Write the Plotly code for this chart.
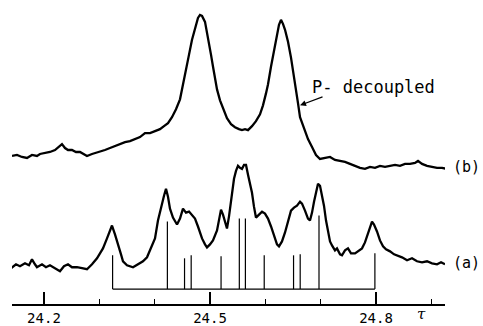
import plotly.graph_objects as go

# Trace (a): coupled spectrum (position in tau, relative intensity)
a_tau = [24.1404, 24.1494, 24.1566, 24.1657, 24.1729, 24.1783, 24.1837, 24.1873, 24.1964, 24.2036,
         24.2108, 24.2199, 24.2289, 24.2361, 24.2434, 24.2506, 24.2596, 24.2687, 24.2777, 24.2868,
         24.2958, 24.3012, 24.3066, 24.3139, 24.3193, 24.3229, 24.3283, 24.3337, 24.3392, 24.3428,
         24.3500, 24.3609, 24.3699, 24.3789, 24.3862, 24.3934, 24.3970, 24.4006, 24.4060, 24.4115,
         24.4169, 24.4205, 24.4241, 24.4277, 24.4331, 24.4404, 24.4458, 24.4512, 24.4566, 24.4621,
         24.4675, 24.4729, 24.4783, 24.4856, 24.4910, 24.4946, 24.5000, 24.5054, 24.5127, 24.5163,
         24.5199, 24.5235, 24.5271, 24.5307, 24.5343, 24.5380, 24.5434, 24.5470, 24.5506, 24.5542,
         24.5578, 24.5615, 24.5651, 24.5687, 24.5723, 24.5759, 24.5795, 24.5831, 24.5886, 24.5940,
         24.5994, 24.6048, 24.6103, 24.6157, 24.6211, 24.6247, 24.6301, 24.6356, 24.6410, 24.6464,
         24.6518, 24.6572, 24.6627, 24.6663, 24.6717, 24.6771, 24.6807, 24.6844, 24.6880, 24.6916,
         24.6952, 24.6988, 24.7024, 24.7060, 24.7097, 24.7133, 24.7169, 24.7205, 24.7259, 24.7295,
         24.7350, 24.7386, 24.7440, 24.7494, 24.7548, 24.7621, 24.7675, 24.7747, 24.7801, 24.7856,
         24.7892, 24.7928, 24.7964, 24.8018, 24.8072, 24.8127, 24.8181, 24.8253, 24.8326, 24.8380,
         24.8470, 24.8561, 24.8651, 24.8741, 24.8832, 24.8922, 24.9012, 24.9103, 24.9175, 24.9247]
a_int = [36, 40, 38, 41, 39, 45, 40, 37, 40, 37,
         39, 36, 33, 38, 40, 37, 37, 36, 35, 40,
         46, 51, 56, 66, 74, 79, 70, 61, 50, 43,
         39, 37, 40, 43, 47, 56, 62, 66, 84, 98,
         109, 116, 108, 96, 87, 80, 86, 96, 92, 93,
         90, 86, 78, 66, 60, 57, 60, 64, 74, 84,
         95, 90, 84, 76, 88, 103, 126, 134, 139, 137,
         136, 140, 140, 130, 121, 112, 98, 87, 90, 93,
         91, 86, 78, 69, 60, 58, 63, 72, 83, 94,
         97, 99, 103, 101, 94, 86, 84, 92, 103, 114,
         121, 119, 109, 99, 84, 73, 63, 59, 54, 56,
         50, 49, 54, 56, 51, 51, 53, 56, 62, 71,
         78, 83, 80, 73, 64, 58, 55, 53, 50, 49,
         47, 44, 46, 43, 42, 43, 41, 40, 42, 40]

# Trace (b): P-decoupled spectrum
b_tau = [24.1422, 24.1512, 24.1602, 24.1693, 24.1783, 24.1873, 24.1928, 24.2018, 24.2108, 24.2199,
         24.2271, 24.2325, 24.2380, 24.2434, 24.2506, 24.2578, 24.2651, 24.2723, 24.2777, 24.2868,
         24.2940, 24.3012, 24.3102, 24.3193, 24.3283, 24.3374, 24.3464, 24.3554, 24.3645, 24.3735,
         24.3825, 24.3916, 24.4006, 24.4096, 24.4169, 24.4241, 24.4313, 24.4386, 24.4458, 24.4512,
         24.4566, 24.4621, 24.4675, 24.4729, 24.4783, 24.4819, 24.4856, 24.4910, 24.4946, 24.4982,
         24.5018, 24.5054, 24.5090, 24.5127, 24.5181, 24.5235, 24.5307, 24.5380, 24.5452, 24.5524,
         24.5578, 24.5633, 24.5687, 24.5759, 24.5831, 24.5904, 24.5958, 24.6012, 24.6048, 24.6103,
         24.6157, 24.6211, 24.6247, 24.6283, 24.6319, 24.6356, 24.6410, 24.6464, 24.6518, 24.6554,
         24.6591, 24.6627, 24.6663, 24.6717, 24.6771, 24.6844, 24.6916, 24.6988, 24.7078, 24.7169,
         24.7259, 24.7350, 24.7440, 24.7530, 24.7621, 24.7711, 24.7801, 24.7892, 24.7982, 24.8072,
         24.8163, 24.8253, 24.8344, 24.8434, 24.8524, 24.8615, 24.8705, 24.8759, 24.8832, 24.8922,
         24.9012, 24.9103, 24.9193, 24.9283]
b_int = [149, 150, 148, 147, 150, 149, 151, 152, 153, 155,
         158, 161, 157, 155, 155, 153, 153, 151, 149, 151,
         152, 153, 155, 157, 159, 161, 163, 164, 166, 168,
         172, 172, 174, 176, 179, 182, 188, 196, 206, 220,
         236, 251, 266, 278, 288, 291, 290, 284, 274, 264,
         251, 239, 226, 216, 205, 197, 187, 181, 178, 176,
         175, 176, 175, 179, 184, 191, 200, 212, 221, 239,
         256, 271, 281, 286, 282, 276, 264, 248, 230, 216,
         202, 188, 182, 174, 166, 158, 150, 146, 147, 148,
         145, 144, 143, 141, 139, 137, 136, 138, 137, 139,
         138, 139, 140, 139, 141, 141, 142, 144, 141, 139,
         138, 137, 137, 136]

# Stick diagram (calculated lines)
stick_tau = [24.324, 24.423, 24.454, 24.466, 24.520, 24.553, 24.564, 24.598, 24.651, 24.663, 24.697, 24.798]
stick_height = [34, 68, 31, 34, 33, 71, 71, 34, 34, 35, 74, 36]
stick_base = 15

major_ticks = [24.2, 24.5, 24.8]
major_labels = ["24.2", "24.5", "24.8"]
minor_ticks = [24.3, 24.4, 24.6, 24.7, 24.9]

# Build stick trace
sx, sy = [stick_tau[0], stick_tau[-1], None], [stick_base, stick_base, None]
for t, h in zip(stick_tau, stick_height):
    sx += [t, t, None]
    sy += [stick_base, stick_base + h, None]

fig = go.Figure()
fig.add_trace(go.Scatter(x=b_tau, y=b_int, mode="lines", line=dict(color="black", width=2.3), hoverinfo="skip"))
fig.add_trace(go.Scatter(x=a_tau, y=a_int, mode="lines", line=dict(color="black", width=2.3), hoverinfo="skip"))
fig.add_trace(go.Scatter(x=sx, y=sy, mode="lines", line=dict(color="black", width=1.2), hoverinfo="skip"))

mono = "DejaVu Sans Mono"
fig.add_annotation(x=24.7946, y=218, text="P- decoupled", showarrow=False,
                   font=dict(family=mono, size=17, color="black"))
fig.add_annotation(x=24.6627, y=200, text="", showarrow=True, ax=24, ay=-9,
                   arrowhead=2, arrowsize=1, arrowwidth=1.2, arrowcolor="black")
fig.add_annotation(x=1.0, xref="paper", xanchor="center", xshift=21, y=138, text="(b)", showarrow=False,
                   font=dict(family=mono, size=15, color="black"))
fig.add_annotation(x=1.0, xref="paper", xanchor="center", xshift=21, y=41, text="(a)", showarrow=False,
                   font=dict(family=mono, size=15, color="black"))
fig.add_annotation(x=24.883, y=0, yref="paper", yanchor="middle", yshift=-10, text="<i>τ</i>", showarrow=False,
                   font=dict(family="DejaVu Serif", size=15, color="black"))

fig.update_layout(
    width=483, height=326,
    margin=dict(l=12, r=38, t=0, b=20),
    paper_bgcolor="white", plot_bgcolor="white",
    showlegend=False,
    xaxis=dict(range=[24.1422, 24.9247], showgrid=False, zeroline=False,
               showline=True, linecolor="black", linewidth=1.5,
               ticks="inside", ticklen=12, tickwidth=1.5, tickcolor="black",
               tickvals=major_ticks, ticktext=major_labels,
               tickfont=dict(family=mono, size=14, color="black"),
               minor=dict(tickvals=minor_ticks, ticks="inside", ticklen=5, tickwidth=1.2, tickcolor="black")),
    yaxis=dict(range=[0, 306], visible=False),
)

fig.write_html("out.html", config={"displayModeBar": False},
               post_script="document.body.style.margin='0';")
